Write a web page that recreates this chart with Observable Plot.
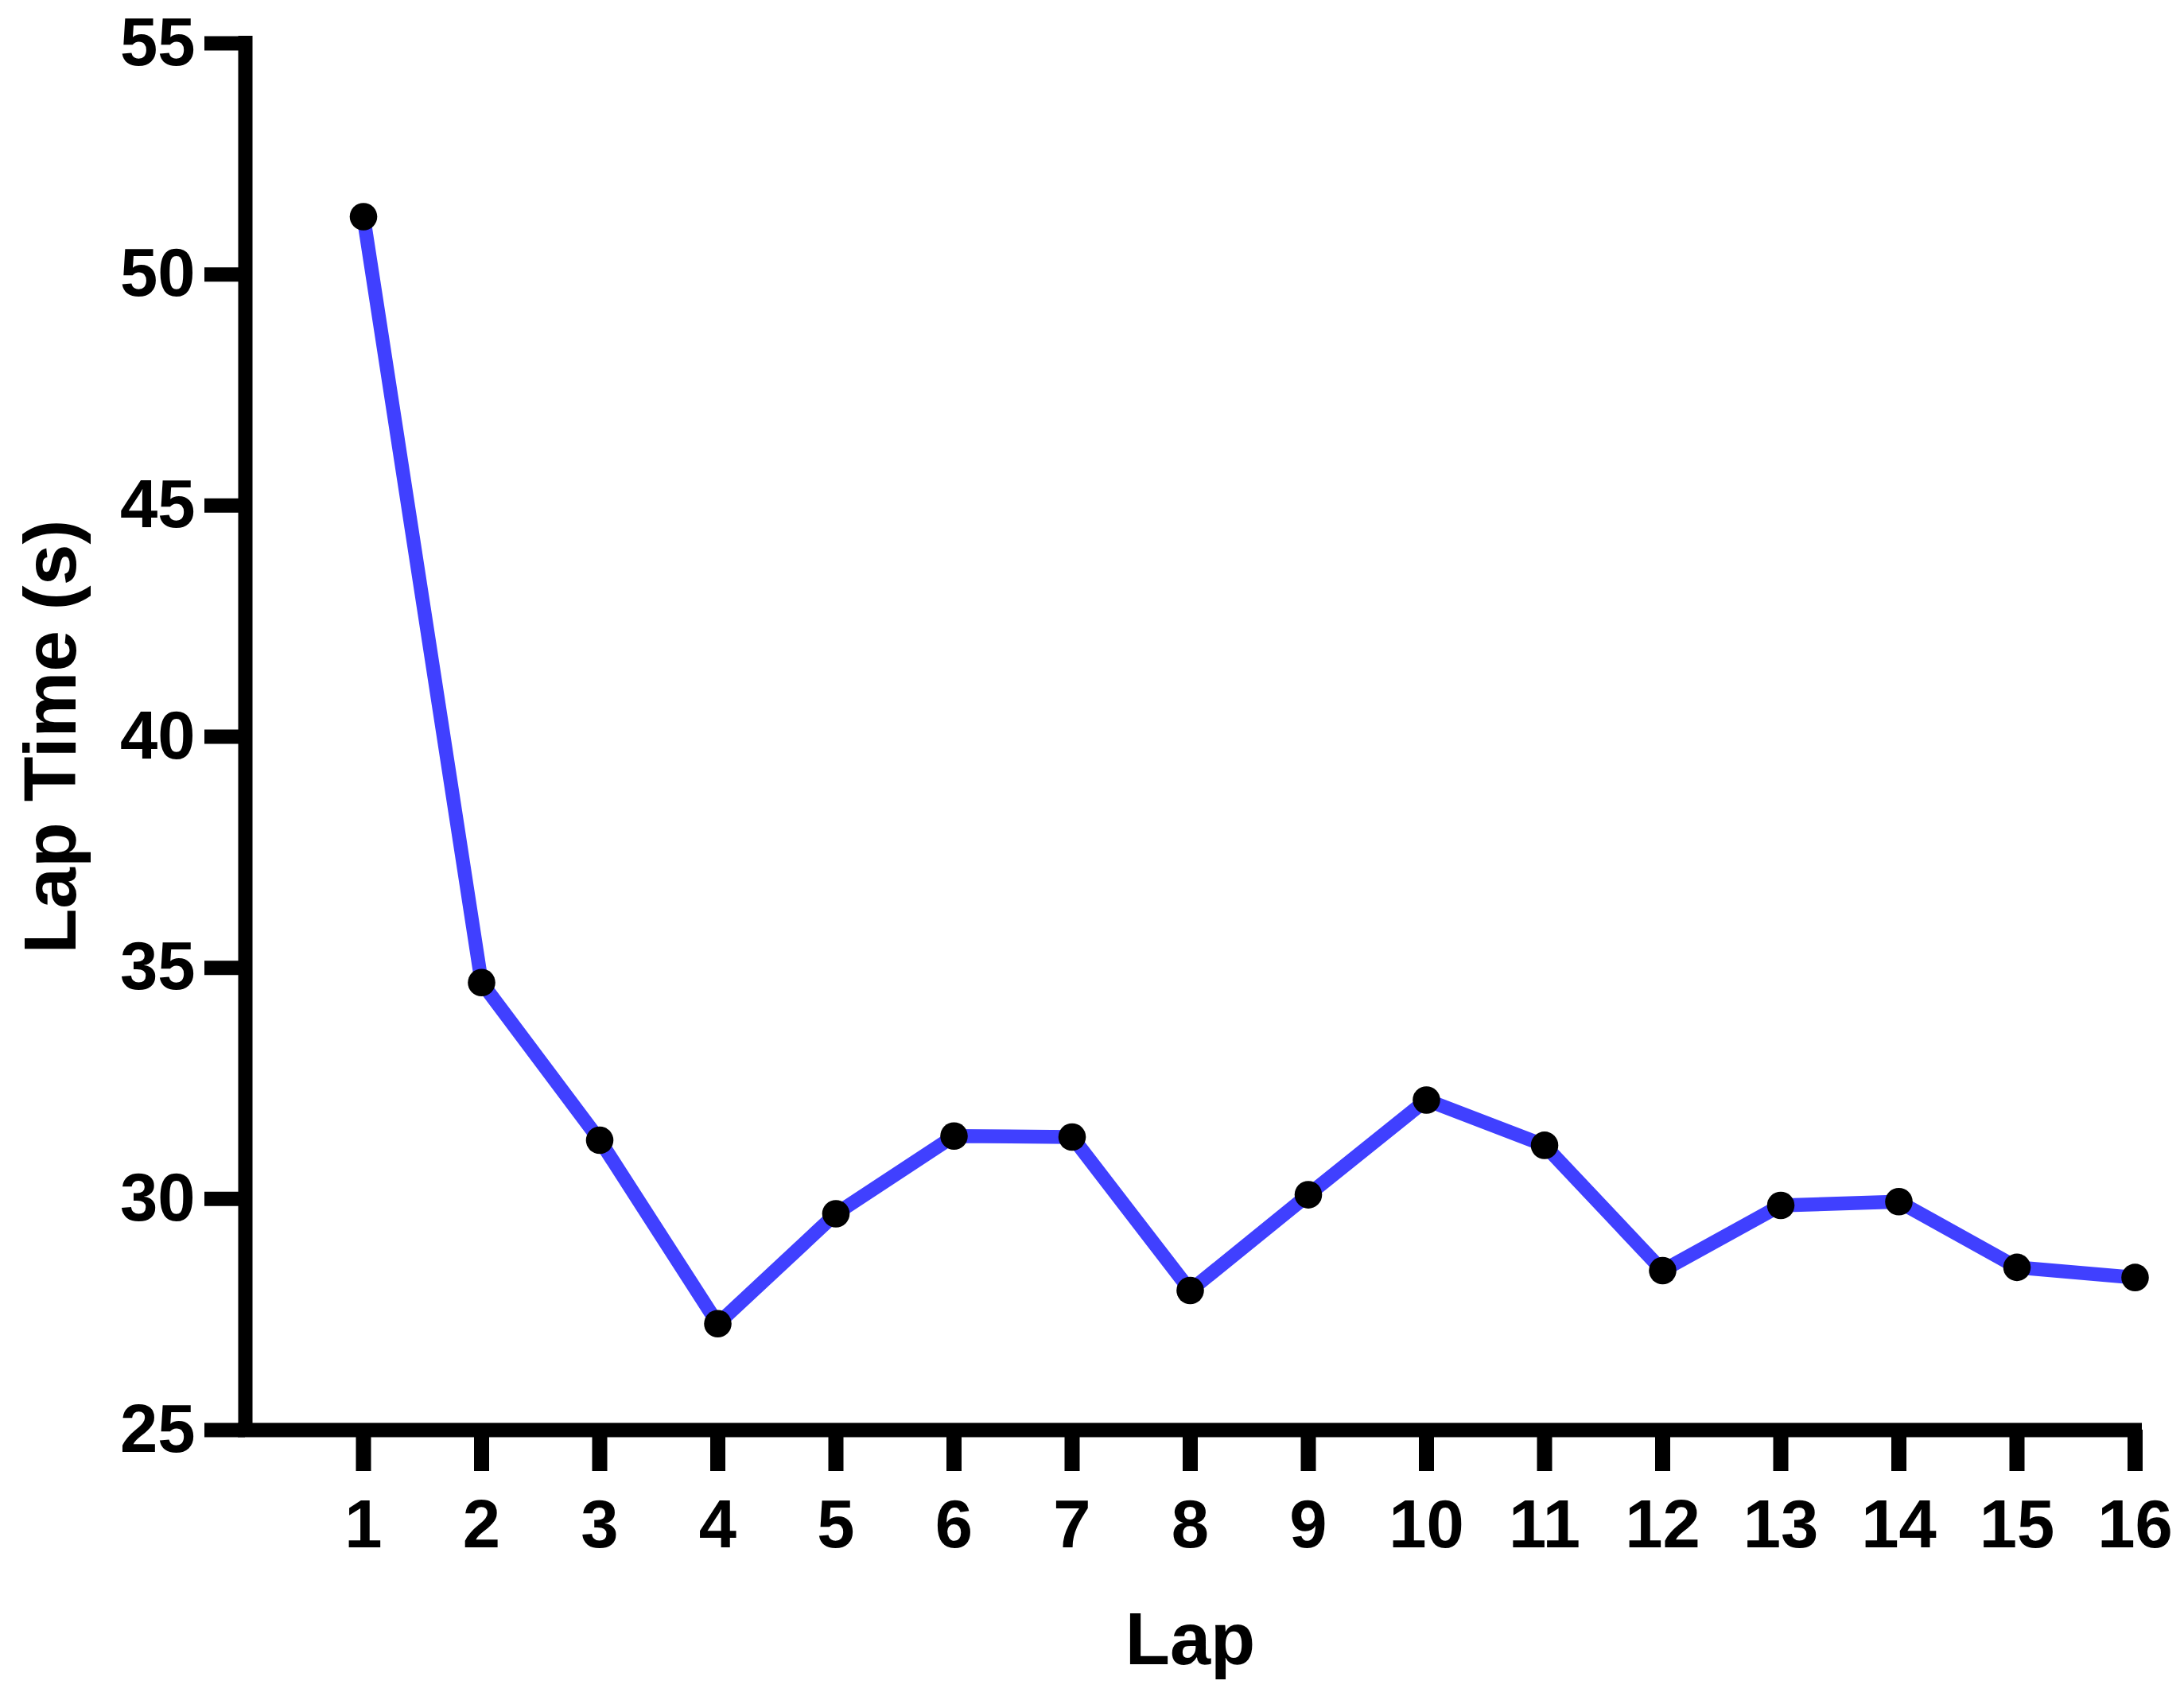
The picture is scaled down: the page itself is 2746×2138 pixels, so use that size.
<!DOCTYPE html>
<html>
<head>
<meta charset="utf-8">
<script src="https://cdn.jsdelivr.net/npm/d3@7"></script>
<script src="https://cdn.jsdelivr.net/npm/@observablehq/plot@0.6"></script>
<style>
  html, body { margin: 0; padding: 0; background: #ffffff; }
  #chart { width: 2746px; height: 2138px; }
</style>
</head>
<body>
<div id="chart"></div>
<script>
// Data
const laps = [1, 2, 3, 4, 5, 6, 7, 8, 9, 10, 11, 12, 13, 14, 15, 16];
const lapTimes = [51.25, 34.68, 31.27, 27.30, 29.68, 31.36, 31.34, 28.02, 30.09, 32.14, 31.16, 28.45, 29.86, 29.94, 28.52, 28.30];
const yTicks = [25, 30, 35, 40, 45, 50, 55];
const xTitle = "Lap";
const yTitle = "Lap Time (s)";

const data = laps.map((lap, i) => ({lap, time: lapTimes[i]}));

const FONT = "'Liberation Sans', Arial, Helvetica, sans-serif";

const chart = Plot.plot({
  width: 2746,
  height: 2138,
  marginLeft: 308,
  marginRight: 62,
  marginTop: 54,
  marginBottom: 340,
  style: {fontFamily: FONT, background: "#ffffff", color: "#000000"},
  x: {domain: [0, 16], axis: null},
  y: {domain: [25, 55], axis: null},
  marks: [
    Plot.axisY({
      ticks: yTicks,
      anchor: "left",
      tickSize: 51,
      tickPadding: 12,
      strokeWidth: 18,
      fontSize: 85,
      fontWeight: "bold",
      label: null,
      tickFormat: d => String(d)
    }),
    Plot.axisX({
      ticks: laps,
      anchor: "bottom",
      tickSize: 52,
      tickPadding: 35,
      strokeWidth: 19,
      fontSize: 85,
      fontWeight: "bold",
      label: null,
      tickFormat: d => String(d)
    }),
    Plot.ruleX([0], {y1: 25, y2: 55, stroke: "#000000", strokeWidth: 18, strokeLinecap: "square"}),
    Plot.ruleY([25], {x1: 0, x2: 16, stroke: "#000000", strokeWidth: 18, strokeLinecap: "square"}),
    Plot.line(data, {x: "lap", y: "time", stroke: "#4040ff", strokeWidth: 17.5, strokeLinejoin: "miter", strokeLinecap: "butt"}),
    Plot.dot(data, {x: "lap", y: "time", r: 17.3, fill: "#000000", stroke: "none"}),
    Plot.text([yTitle], {
      frameAnchor: "left",
      dx: -214,
      rotate: -90,
      lineAnchor: "bottom",
      textAnchor: "middle",
      fontSize: 93,
      fontWeight: "bold",
      fill: "#000000"
    }),
    Plot.text([xTitle], {
      frameAnchor: "bottom",
      dy: 294,
      lineAnchor: "bottom",
      textAnchor: "middle",
      fontSize: 92,
      fontWeight: "bold",
      fill: "#000000"
    })
  ]
});

document.getElementById("chart").appendChild(chart);
</script>
</body>
</html>
